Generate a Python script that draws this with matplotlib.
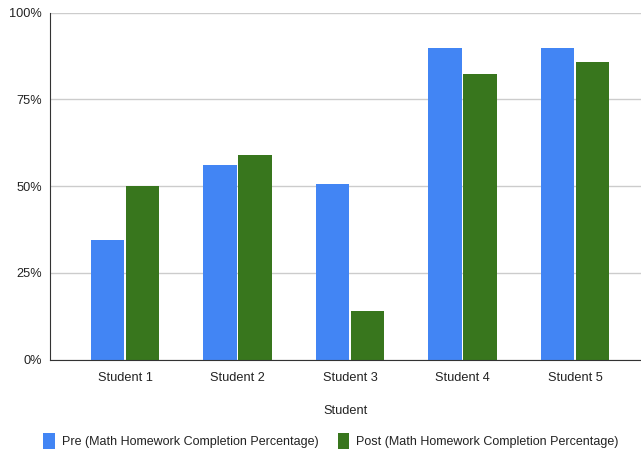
import matplotlib
matplotlib.use("Agg")
import matplotlib.pyplot as plt
from matplotlib.patches import Patch
from matplotlib.ticker import FuncFormatter
import numpy as np

plt.rcParams['font.family'] = ['Liberation Sans', 'DejaVu Sans']

categories = ["Student 1", "Student 2", "Student 3", "Student 4", "Student 5"]
pre = [34.4, 56.1, 50.6, 89.9, 89.9]
post = [50.0, 59.0, 14.1, 82.4, 85.8]
series_names = ["Pre (Math Homework Completion Percentage)",
                "Post (Math Homework Completion Percentage)"]
yticks = [0, 25, 50, 75, 100]

blue = "#4285F4"
green = "#38761D"
text_c = "#222222"
fs = 9.2

fig = plt.figure(figsize=(6.41, 4.53), dpi=100)
ax = fig.add_axes([50/641, 93.5/453, 1 - 50/641, (359.5 - 12.7)/453])

x = np.arange(len(categories))
w = 0.30
gap = 0.012
ax.bar(x - w/2 - gap/2, pre, width=w, color=blue, zorder=3)
ax.bar(x + w/2 + gap/2, post, width=w, color=green, zorder=3)

ax.set_xlim(-0.666, 4.586)
ax.set_ylim(0, 100)
ax.set_yticks(yticks)
ax.yaxis.set_major_formatter(FuncFormatter(lambda v, p: f"{int(v)}%"))
ax.set_xticks(x)
ax.set_xticklabels(categories)
ax.grid(axis='y', color="#cccccc", linewidth=1, zorder=0)
for s in ['top', 'right']:
    ax.spines[s].set_visible(False)
ax.spines['left'].set_color("#333333")
ax.spines['bottom'].set_color("#333333")
ax.spines['left'].set_zorder(4)
ax.spines['bottom'].set_zorder(4)
ax.tick_params(axis='both', length=0, labelsize=fs, colors=text_c)
ax.tick_params(axis='x', pad=9)
ax.tick_params(axis='y', pad=6)
ax.set_xlabel("Student", fontsize=fs, color=text_c, labelpad=15)

handles = [Patch(facecolor=blue, edgecolor='none'), Patch(facecolor=green, edgecolor='none')]
fig.legend(handles, series_names, loc='center', bbox_to_anchor=(331/641, 1 - 441/453),
           ncol=2, frameon=False, fontsize=9.0, handlelength=0.9, handleheight=1.5,
           handletextpad=0.6, columnspacing=1.5, labelcolor=text_c)

fig.savefig("out.png", dpi=100)
